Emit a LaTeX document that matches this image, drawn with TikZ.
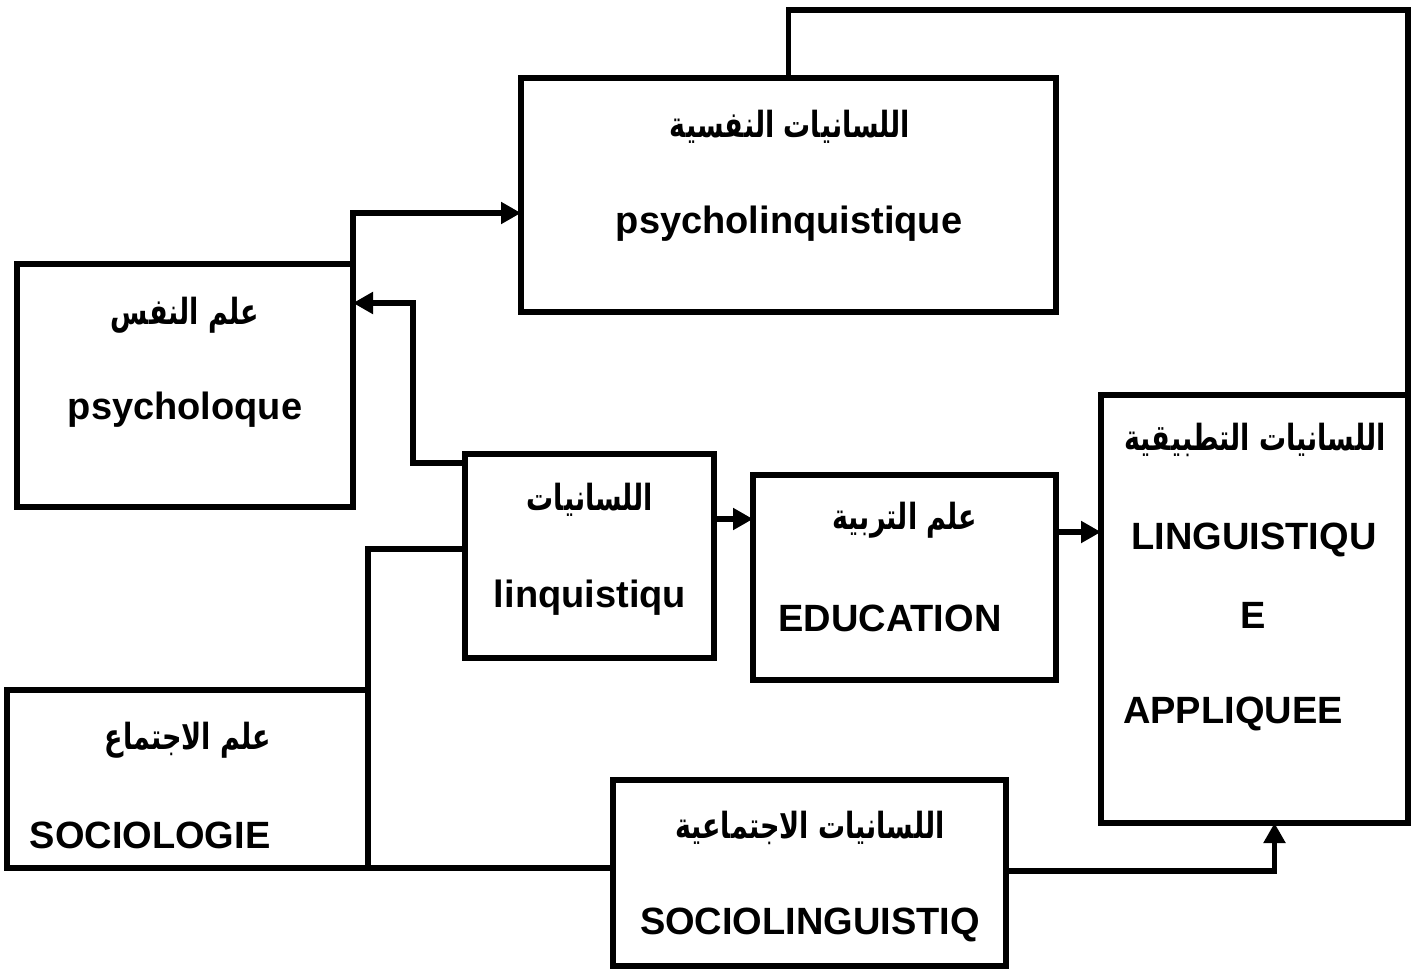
\documentclass[tikz,border=0pt]{standalone}
\usepackage{fontspec}
\setmainfont{Liberation Sans}
\newfontfamily\arabicfont[Script=Arabic,FakeStretch=0.75]{DejaVu Sans}
\TeXXeTstate=1
\usetikzlibrary{arrows.meta}
\tikzset{
  box/.style={draw, line width=5.5pt, inner sep=0pt, outer sep=0pt, rectangle},
  conn/.style={line width=5.5pt, line join=miter},
  arr/.style={conn, -{Triangle[length=20pt,width=21pt]}},
  lat/.style={font=\fontsize{38}{40}\selectfont\bfseries, inner sep=0pt},
  ar/.style={font=\fontsize{36}{40}\selectfont\arabicfont\bfseries, inner sep=0pt},
}
\newcommand{\AR}[1]{\beginR #1\endR}
\begin{document}
\begin{tikzpicture}[x=1pt,y=1pt]
\useasboundingbox (0,0) rectangle (1417,-971);
% boxes
\node[box, minimum width=535pt, minimum height=234pt] (psl) at (788.5,-195) {};
\node[box, minimum width=336pt, minimum height=243pt] (psy) at (185,-385.5) {};
\node[box, minimum width=249pt, minimum height=204pt] (lin) at (589.5,-556) {};
\node[box, minimum width=303pt, minimum height=205pt] (edu) at (904.5,-577.5) {};
\node[box, minimum width=307pt, minimum height=428pt] (app) at (1254.5,-609) {};
\node[box, minimum width=361pt, minimum height=178pt] (soc) at (187.5,-779) {};
\node[box, minimum width=393pt, minimum height=186pt] (sl) at (809.5,-873) {};
% texts
\node[ar] (psl-a) at (790,-127) {\AR{اللسانيات النفسية}};
\node[lat] (psl-l) at (789,-224) {psycholinquistique};
\node[ar] (psy-a) at (185,-315) {\AR{علم النفس}};
\node[lat] (psy-l) at (185,-410) {psycholoque};
\node[ar] (lin-a) at (590,-500) {\AR{اللسانيات}};
\node[lat] (lin-l) at (590,-598) {linquistiqu};
\node[ar] (edu-a) at (905,-520) {\AR{علم التربية}};
\node[lat] (edu-l) at (890,-618) {EDUCATION};
\node[ar] (app-a) at (1255,-440) {\AR{اللسانيات التطبيقية}};
\node[lat] (app-l1) at (1254,-540) {LINGUISTIQU};
\node[lat] (app-l2) at (1253,-615) {E};
\node[lat] (app-l3) at (1233,-714) {APPLIQUEE};
\node[ar] (soc-a) at (188,-740) {\AR{علم الاجتماع}};
\node[lat] (soc-l) at (150,-835) {SOCIOLOGIE};
\node[ar] (sl-a) at (810,-828) {\AR{اللسانيات الاجتماعية}};
\node[lat] (sl-l) at (810,-925) {SOCIOLINGUISTIQ};
% connectors
\draw[arr] (psy.north east) |- ([yshift=-18pt]psl.west);
\draw[arr] ([yshift=-9pt]lin.north west) -- ++(-52,0) |- ([yshift=-39pt]psy.north east);
\draw[conn] (soc.north east) |- ([yshift=7pt]lin.west);
\draw[arr] ([yshift=-65pt]lin.north east) -- ([yshift=-44pt]edu.north west);
\draw[arr] ([yshift=-57pt]edu.north east) -- ([yshift=-137pt]app.north west);
\draw[conn] (soc.south east) -- ([yshift=5pt]sl.west);
\draw[arr] ([yshift=2pt]sl.east) -| ([xshift=20pt]app.south);
\draw[conn] (app.north east) -- ++(0,385) -| (psl.north);
\end{tikzpicture}
\end{document}
